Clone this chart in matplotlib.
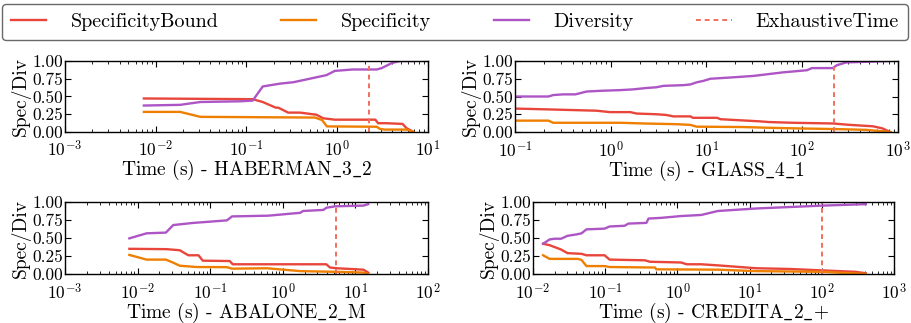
"""
Specificity / diversity over time for four datasets
"""
import numpy as np
import matplotlib
matplotlib.use('Agg')
import matplotlib.pyplot as plt

plt.rcParams['font.family'] = ['cmr10', 'DejaVu Serif']
plt.rcParams['mathtext.fontset'] = 'cm'
plt.rcParams['axes.formatter.use_mathtext'] = True
plt.rcParams['axes.unicode_minus'] = False

# ---- HABERMAN_3_2 ----
hab_bound_t = [0.0074, 0.117, 0.151, 0.21, 0.224, 0.288, 0.389, 0.59, 0.70, 0.94, 2.63, 2.82, 3.5, 5.25, 5.8, 6.85]
hab_bound_v = [0.47, 0.46, 0.42, 0.34, 0.34, 0.27, 0.27, 0.24, 0.19, 0.17, 0.17, 0.12, 0.12, 0.11, 0.05, 0.0]
hab_spec_t = [0.0074, 0.0186, 0.031, 0.57, 0.68, 0.77, 2.72, 2.95, 3.3, 5.8, 6.85]
hab_spec_v = [0.28, 0.28, 0.21, 0.20, 0.165, 0.075, 0.07, 0.04, 0.03, 0.03, 0.0]
hab_div_t = [0.0074, 0.0186, 0.031, 0.085, 0.117, 0.151, 0.234, 0.33, 0.50, 0.76, 0.94, 1.48, 2.72, 3.1, 3.98, 4.9, 6.85]
hab_div_v = [0.37, 0.38, 0.42, 0.43, 0.44, 0.64, 0.68, 0.70, 0.75, 0.80, 0.86, 0.88, 0.88, 0.90, 0.97, 1.0, 1.0]
hab_exh = 2.24
hab_exh_top = 0.95

# ---- GLASS_4_1 ----
gla_bound_t = [0.1, 0.2, 0.71, 0.98, 1.6, 1.86, 3.0, 3.8, 4.5, 6.8, 7.2, 12.9, 14.0, 36.0, 45.0, 79.0, 209, 316, 550, 690, 830]
gla_bound_v = [0.33, 0.32, 0.30, 0.28, 0.28, 0.26, 0.25, 0.24, 0.22, 0.22, 0.20, 0.20, 0.18, 0.15, 0.14, 0.13, 0.12, 0.10, 0.08, 0.05, 0.0]
gla_spec_t = [0.1, 0.224, 0.25, 1.26, 2.2, 4.9, 6.8, 7.9, 24.0, 42.7, 95.0, 245, 468, 830]
gla_spec_v = [0.16, 0.16, 0.13, 0.13, 0.12, 0.11, 0.10, 0.075, 0.07, 0.06, 0.05, 0.04, 0.03, 0.0]
gla_div_t = [0.1, 0.224, 0.25, 0.316, 0.427, 0.56, 0.78, 1.26, 1.7, 2.37, 3.0, 3.55, 5.75, 6.8, 7.9, 9.3, 11.0, 19.0, 31.0, 63.0, 112, 126, 209, 229, 288, 832]
gla_div_v = [0.50, 0.50, 0.52, 0.53, 0.53, 0.57, 0.58, 0.59, 0.60, 0.62, 0.63, 0.65, 0.66, 0.67, 0.70, 0.72, 0.75, 0.77, 0.79, 0.84, 0.87, 0.90, 0.90, 0.94, 0.98, 1.0]
gla_exh = 216
gla_exh_top = 0.92

# ---- ABALONE_2_M ----
aba_bound_t = [0.0077, 0.025, 0.038, 0.050, 0.069, 0.079, 0.186, 0.204, 3.98, 4.47, 5.5, 12.9, 15.0]
aba_bound_v = [0.35, 0.345, 0.33, 0.26, 0.26, 0.185, 0.18, 0.135, 0.135, 0.09, 0.08, 0.06, 0.02]
aba_spec_t = [0.0077, 0.0133, 0.0245, 0.031, 0.038, 0.065, 0.17, 0.20, 0.60, 1.74, 5.5, 12.9, 15.0]
aba_spec_v = [0.265, 0.20, 0.20, 0.157, 0.115, 0.097, 0.095, 0.074, 0.08, 0.04, 0.03, 0.02, 0.0]
aba_div_t = [0.0077, 0.0133, 0.0245, 0.031, 0.059, 0.081, 0.17, 0.20, 0.63, 1.74, 1.9, 3.63, 3.98, 5.25, 12.9, 15.0]
aba_div_v = [0.495, 0.565, 0.575, 0.68, 0.71, 0.72, 0.745, 0.80, 0.81, 0.85, 0.875, 0.89, 0.92, 0.94, 0.95, 0.97]
aba_exh = 5.4
aba_exh_top = 0.98

# ---- CREDITA_2_+ ----
cre_bound_t = [0.0138, 0.017, 0.0245, 0.030, 0.047, 0.055, 0.098, 0.115, 0.355, 0.417, 1.12, 1.35, 2.14, 3.63, 12.3, 35.5, 102, 295, 407]
cre_bound_v = [0.42, 0.40, 0.34, 0.29, 0.28, 0.26, 0.26, 0.20, 0.19, 0.17, 0.16, 0.135, 0.135, 0.12, 0.08, 0.07, 0.05, 0.03, 0.01]
cre_spec_t = [0.0138, 0.017, 0.042, 0.047, 0.055, 0.098, 0.115, 0.49, 0.51, 3.63, 12.3, 35.5, 102, 407]
cre_spec_v = [0.26, 0.21, 0.21, 0.195, 0.11, 0.11, 0.097, 0.09, 0.065, 0.06, 0.04, 0.035, 0.03, 0.0]
cre_div_t = [0.0138, 0.017, 0.020, 0.0245, 0.030, 0.040, 0.047, 0.055, 0.098, 0.115, 0.186, 0.209, 0.372, 0.398, 0.60, 1.12, 2.14, 3.63, 12.3, 35.5, 102, 407]
cre_div_v = [0.42, 0.48, 0.49, 0.49, 0.53, 0.55, 0.565, 0.62, 0.63, 0.66, 0.67, 0.70, 0.71, 0.77, 0.78, 0.805, 0.82, 0.875, 0.91, 0.93, 0.95, 0.97]
cre_exh = 100
cre_exh_top = 0.98

names = [r'HABERMAN$\_$3$\_$2', r'GLASS$\_$4$\_$1', r'ABALONE$\_$2$\_$M', r'CREDITA$\_$2$\_$+']
xlims = [(1e-3, 1e1), (1e-1, 1e3), (1e-3, 1e2), (1e-2, 1e3)]

W, H = 912, 323
boxes = [(65, 61, 363, 70.7), (515, 61, 383, 71), (65, 202, 363, 72), (533, 202, 361, 72)]

c_bound = '#e8463a'
c_spec = '#ef7f00'
c_div = '#ae55c6'
c_exh = '#f0705e'

data = [
    (hab_bound_t, hab_bound_v, hab_spec_t, hab_spec_v, hab_div_t, hab_div_v, hab_exh, hab_exh_top),
    (gla_bound_t, gla_bound_v, gla_spec_t, gla_spec_v, gla_div_t, gla_div_v, gla_exh, gla_exh_top),
    (aba_bound_t, aba_bound_v, aba_spec_t, aba_spec_v, aba_div_t, aba_div_v, aba_exh, aba_exh_top),
    (cre_bound_t, cre_bound_v, cre_spec_t, cre_spec_v, cre_div_t, cre_div_v, cre_exh, cre_exh_top),
]

fig = plt.figure(figsize=(W/100, H/100), dpi=100)
tfs = 12.5
for i, d in enumerate(data):
    x0, y0, w, h = boxes[i]
    ax = fig.add_axes([x0/W, 1-(y0+h)/H, w/W, h/H])
    bt, bv, st, sv, dt, dv, ex, ext = d
    l1, = ax.plot(bt, bv, color=c_bound, lw=1.7, label='SpecificityBound')
    l2, = ax.plot(st, sv, color=c_spec, lw=1.7, label='Specificity')
    l3, = ax.plot(dt, dv, color=c_div, lw=1.7, label='Diversity')
    l4, = ax.plot([ex, ex], [0, ext], color=c_exh, lw=1.4, ls=(0, (2.5, 2)), label='ExhaustiveTime')
    ax.set_xscale('log')
    ax.set_xlim(xlims[i])
    ax.set_ylim(0, 1)
    ax.set_yticks([0, 0.25, 0.5, 0.75, 1.0])
    ax.set_yticklabels(['0.00', '0.25', '0.50', '0.75', '1.00'])
    ax.tick_params(which='both', direction='in', top=True, right=True, labelsize=tfs)
    ax.tick_params(which='major', length=4, width=0.8)
    ax.tick_params(axis='y', which='major', pad=1.5)
    ax.tick_params(axis='x', which='major', pad=5.5)
    ax.tick_params(which='minor', length=2, width=0.6)
    ax.set_ylabel('Spec/Div', fontsize=14, labelpad=1)
    ax.set_xlabel('Time (s) - ' + names[i], fontsize=14, labelpad=-1)
    for s in ax.spines.values():
        s.set_linewidth(1.0)

fig.legend(handles=[l1, l2, l3, l4], loc='lower left', ncol=4, mode='expand',
           bbox_to_anchor=(2/W, 1-40/H, 906/W, 38/H), fontsize=14.5,
           frameon=True, edgecolor='#444444', handlelength=1.75, handletextpad=1.2,
           borderaxespad=0, borderpad=0.45)

plt.savefig('out.png', dpi=100)
